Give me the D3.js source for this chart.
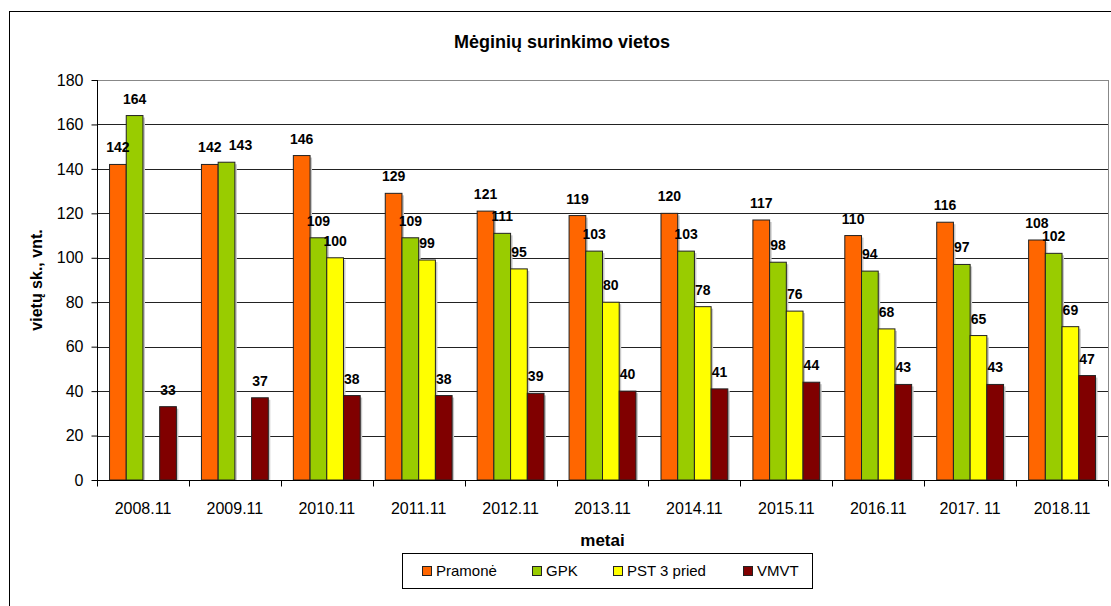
<!DOCTYPE html>
<html>
<head>
<meta charset="utf-8">
<style>
  body { margin: 0; background: #fff; }
  svg { font-family: "Liberation Sans", Arial, sans-serif; }
</style>
</head>
<body>
<script src="https://cdn.jsdelivr.net/npm/d3@7"></script>
<script>

// data
var years = ["2008.11","2009.11","2010.11","2011.11","2012.11","2013.11",
             "2014.11","2015.11","2016.11","2017. 11","2018.11"];
var seriesNames = ["Pramonė","GPK","PST 3 pried","VMVT"];
var pramone = [142,142,146,129,121,119,120,117,110,116,108];
var gpk     = [164,143,109,109,111,103,103, 98, 94, 97,102];
var pst     = [null,null,100,99,95,80,78,76,68,65,69];
var vmvt    = [33,37,38,38,39,40,41,44,43,43,47];
var yTicks  = [0,20,40,60,80,100,120,140,160,180];

var colors = ["#FF6600","#99CC00","#FFFF00","#800000"];
var values = [pramone, gpk, pst, vmvt];

// hand-moved labels in the original (key "year|series" -> dx px)
var labelNudge = {"2009.11|GPK": 14};

var W = 1111, H = 606;
// plot area edges (note: "top" is reserved on window, so use pTop etc.)
var pLeft = 97, pRight = 1108, pTop = 80, pBottom = 480;

var svg = d3.select("body").append("svg")
    .attr("width", W).attr("height", H);

// outer chart border
svg.append("rect")
    .attr("x", 9.5).attr("y", 11.5)
    .attr("width", W).attr("height", H)
    .attr("fill", "#fff").attr("stroke", "#000").attr("stroke-width", 1);

var x0 = d3.scaleBand().domain(years).range([pLeft, pRight]).padding(0);
var x1 = d3.scaleBand().domain(seriesNames).range([0, x0.bandwidth()])
    .paddingInner(0).paddingOuter(0.75);
var y = d3.scaleLinear().domain([0, 180]).range([pBottom, pTop]);

// gridlines
svg.append("g").selectAll("line").data(yTicks.filter(function(d){return d>0;}))
  .enter().append("line")
    .attr("x1", pLeft).attr("x2", pRight)
    .attr("y1", function(d){return Math.round(y(d))+0.5;})
    .attr("y2", function(d){return Math.round(y(d))+0.5;})
    .attr("stroke", function(d){return d==180 ? "#888" : "#222";})
    .attr("stroke-width", 1);

// right border of plot
svg.append("line")
    .attr("x1", pRight+0.5).attr("x2", pRight+0.5)
    .attr("y1", pTop).attr("y2", pBottom)
    .attr("stroke", "#888");

// bars
var flat = [];
years.forEach(function(yr, i) {
  seriesNames.forEach(function(s, j) {
    if (values[j][i] != null) flat.push({year: yr, s: s, j: j, v: values[j][i]});
  });
});

var barG = svg.append("g");
// light shadow
barG.selectAll("rect.sh").data(flat).enter().append("rect")
    .attr("class","sh")
    .attr("x", function(d){return x0(d.year)+x1(d.s)+2;})
    .attr("y", function(d){return y(d.v)+2;})
    .attr("width", x1.bandwidth())
    .attr("height", function(d){return pBottom - y(d.v) - 2;})
    .attr("fill", "#c8c8c8");
barG.selectAll("rect.bar").data(flat).enter().append("rect")
    .attr("class","bar")
    .attr("x", function(d){return x0(d.year)+x1(d.s);})
    .attr("y", function(d){return y(d.v);})
    .attr("width", x1.bandwidth())
    .attr("height", function(d){return pBottom - y(d.v);})
    .attr("fill", function(d){return colors[d.j];})
    .attr("stroke", "#222").attr("stroke-width", 1);

// value labels
svg.append("g").selectAll("text").data(flat).enter().append("text")
    .attr("x", function(d){
      return x0(d.year)+x1(d.s)+x1.bandwidth()/2 + (labelNudge[d.year+"|"+d.s] || 0);
    })
    .attr("y", function(d){return y(d.v)-12;})
    .attr("text-anchor", "middle")
    .attr("font-size", 14).attr("font-weight", "bold")
    .text(function(d){return d.v;});

// y axis
var yAxis = d3.axisLeft(y).tickValues(yTicks).tickSize(6).tickPadding(8);
var gy = svg.append("g").attr("transform", "translate(" + (pLeft+0.5) + ",0)").call(yAxis);
gy.selectAll("text").attr("font-size", 16).attr("font-family", null).attr("fill", "#000");
gy.selectAll("line").attr("stroke", "#000");
gy.select(".domain").attr("d", "M0," + pTop + "V" + pBottom).attr("stroke", "#000");

// x axis
var gx = svg.append("g").attr("transform", "translate(0," + (pBottom+0.5) + ")");
gx.append("line").attr("x1", pLeft).attr("x2", pRight).attr("stroke", "#000");
var bounds = years.map(function(d){return x0(d);}).concat([pRight]);
gx.selectAll("line.tk").data(bounds).enter().append("line")
    .attr("class","tk")
    .attr("x1", function(d){return Math.round(d)+0.5;})
    .attr("x2", function(d){return Math.round(d)+0.5;})
    .attr("y1", 0).attr("y2", 6).attr("stroke", "#000");
gx.selectAll("text").data(years).enter().append("text")
    .attr("x", function(d){return x0(d)+x0.bandwidth()/2;})
    .attr("y", 33)
    .attr("text-anchor", "middle").attr("font-size", 16)
    .text(function(d){return d;});

// titles
svg.append("text").attr("x", 562).attr("y", 48)
    .attr("text-anchor", "middle").attr("font-size", 18).attr("font-weight", "bold")
    .text("Mėginių surinkimo vietos");
svg.append("text").attr("x", (pLeft+pRight)/2).attr("y", 546)
    .attr("text-anchor", "middle").attr("font-size", 17).attr("font-weight", "bold")
    .text("metai");
svg.append("text")
    .attr("transform", "translate(42," + ((pTop+pBottom)/2) + ") rotate(-90)")
    .attr("text-anchor", "middle").attr("font-size", 16).attr("font-weight", "bold")
    .text("vietų sk., vnt.");

// legend
var leg = svg.append("g");
leg.append("rect").attr("x", 402.5).attr("y", 553.5).attr("width", 410).attr("height", 35)
    .attr("fill", "#fff").attr("stroke", "#000");
var legX = [422, 532, 613, 743];
var items = leg.selectAll("g.it").data(seriesNames).enter().append("g")
    .attr("transform", function(d, i){return "translate(" + legX[i] + ",566)";});
items.append("rect").attr("x", 0.5).attr("y", 0.5).attr("width", 9).attr("height", 9)
    .attr("fill", function(d, i){return colors[i];}).attr("stroke", "#222");
items.append("text").attr("x", 14).attr("y", 10).attr("font-size", 15)
    .text(function(d){return d;});

</script>
</body>
</html>
